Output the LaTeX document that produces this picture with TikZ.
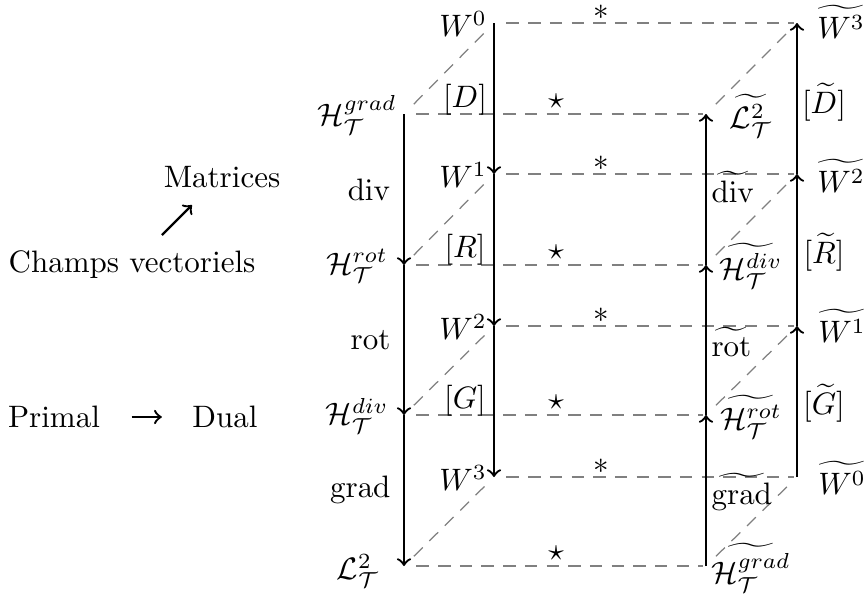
\documentclass[tikz,border=0pt]{standalone}
\usepackage{amsmath}
\begin{document}
\begin{tikzpicture}[x={(0.3226pt,0)}, y={(0,-0.3226pt)},
  arr/.style={->, line width=0.75pt},
  dsh/.style={gray, line width=0.4pt, dash pattern=on 4pt off 3pt},
  hdsh/.style={dsh, shorten <=4pt, shorten >=1pt},
  ddsh/.style={dsh, shorten <=4.5pt, shorten >=4pt},
  lbl/.style={inner sep=0pt, anchor=center},
  lbll/.style={inner sep=0pt, anchor=east},
  lblr/.style={inner sep=0pt, anchor=west}]
\useasboundingbox (0,0) rectangle (866,601);

% points
\coordinate (Hg) at (404,114);
\coordinate (Hr) at (404,265);
\coordinate (Hd) at (404,415);
\coordinate (L)  at (404,566);
\coordinate (W0) at (494,23);
\coordinate (W1) at (494,174);
\coordinate (W2) at (494,326);
\coordinate (W3) at (494,477);
\coordinate (tL)  at (706,114);
\coordinate (tHd) at (706,265);
\coordinate (tHr) at (706,415);
\coordinate (tHg) at (706,566);
\coordinate (tW3) at (797,23);
\coordinate (tW2) at (797,174);
\coordinate (tW1) at (797,326);
\coordinate (tW0) at (797,477);

% dashed horizontals
\draw[hdsh] (Hg) -- (tL);
\draw[hdsh] (Hr) -- (tHd);
\draw[hdsh] (Hd) -- (tHr);
\draw[hdsh] (L) -- (tHg);
\draw[hdsh] (W0) -- (tW3);
\draw[hdsh] (W1) -- (tW2);
\draw[hdsh] (W2) -- (tW1);
\draw[hdsh] (W3) -- (tW0);
% dashed diagonals
\draw[ddsh] (Hg) -- (W0);
\draw[ddsh] (Hr) -- (W1);
\draw[ddsh] (Hd) -- (W2);
\draw[ddsh] (L) -- (W3);
\draw[ddsh] (tL) -- (tW3);
\draw[ddsh] (tHd) -- (tW2);
\draw[ddsh] (tHr) -- (tW1);
\draw[ddsh] (tHg) -- (tW0);

% solid arrows
\draw[arr] (Hg) -- (Hr);
\draw[arr] (Hr) -- (Hd);
\draw[arr] (Hd) -- (L);
\draw[arr] (W0) -- (W1);
\draw[arr] (W1) -- (W2);
\draw[arr] (W2) -- (W3);
\draw[arr] (tHg) -- (tHr);
\draw[arr] (tHr) -- (tHd);
\draw[arr] (tHd) -- (tL);
\draw[arr] (tW0) -- (tW1);
\draw[arr] (tW1) -- (tW2);
\draw[arr] (tW2) -- (tW3);

% left labels
\node[lbl] (lHg) at (357,115) {$\mathcal{H}_{\mathcal{T}}^{grad}$};
\node[lbl] (lHr) at (357,266) {$\mathcal{H}_{\mathcal{T}}^{rot}$};
\node[lbl] (lHd) at (357,416) {$\mathcal{H}_{\mathcal{T}}^{div}$};
\node[lbl] (lL)  at (358,571) {$\mathcal{L}_{\mathcal{T}}^{2}$};
\node[lbll] (ldiv)  at (391,190) {$\mathrm{div}$};
\node[lbll] (lrot)  at (391,340) {$\mathrm{rot}$};
\node[lbll] (lgrad) at (391,490) {$\mathrm{grad}$};
\node[lbl] (lW0) at (463,24) {$W^0$};
\node[lbl] (lW1) at (463,175) {$W^1$};
\node[lbl] (lW2) at (463,327) {$W^2$};
\node[lbl] (lW3) at (463,478) {$W^3$};
\node[lbl] (lD) at (465,100) {$[D]$};
\node[lbl] (lR) at (465,250) {$[R]$};
\node[lbl] (lG) at (465,401) {$[G]$};

% stars
\node[lbl] (s1) at (556,101) {$\star$};
\node[lbl] (s2) at (556,252) {$\star$};
\node[lbl] (s3) at (556,402) {$\star$};
\node[lbl] (s4) at (556,553) {$\star$};
\node[lbl] (a1) at (601,12) {$\ast$};
\node[lbl] (a2) at (601,163) {$\ast$};
\node[lbl] (a3) at (601,315) {$\ast$};
\node[lbl] (a4) at (601,466) {$\ast$};

% right labels
\node[lbl] (ltL)  at (751,116) {$\widetilde{\mathcal{L}_{\mathcal{T}}^{2}}$};
\node[lbl] (ltHd) at (751,266) {$\widetilde{\mathcal{H}_{\mathcal{T}}^{div}}$};
\node[lbl] (ltHr) at (751,417) {$\widetilde{\mathcal{H}_{\mathcal{T}}^{rot}}$};
\node[lbl] (ltHg) at (751,568) {$\widetilde{\mathcal{H}_{\mathcal{T}}^{grad}}$};
\node[lblr] (ltdiv)  at (711,187) {$\widetilde{\mathrm{div}}$};
\node[lblr] (ltrot)  at (711,342) {$\widetilde{\mathrm{rot}}$};
\node[lblr] (ltgrad) at (711,492) {$\widetilde{\mathrm{grad}}$};
\node[lbl] (ltW3) at (841,22) {$\widetilde{W^3}$};
\node[lbl] (ltW2) at (841,176) {$\widetilde{W^2}$};
\node[lbl] (ltW1) at (842,326) {$\widetilde{W^1}$};
\node[lbl] (ltW0) at (842,478) {$\widetilde{W^0}$};
\node[lbl] (ltD) at (824,102) {$[\widetilde{D}]$};
\node[lbl] (ltR) at (824,252) {$[\widetilde{R}]$};
\node[lbl] (ltG) at (824,403) {$[\widetilde{G}]$};

% legend
\node[lbl] (mat) at (222,177) {Matrices};
\node[lbl] (champs) at (132,265) {Champs vectoriels};
\coordinate (cm1) at (162,235);
\coordinate (cm2) at (192,205);
\draw[arr] (cm1) -- (cm2);
\node[lbl] (primal) at (54,417) {Primal};
\node[lbl] (dual) at (225,417) {Dual};
\draw[arr, shorten <=10pt, shorten >=9.7pt] (primal.east) -- (dual.west);
\end{tikzpicture}
\end{document}
